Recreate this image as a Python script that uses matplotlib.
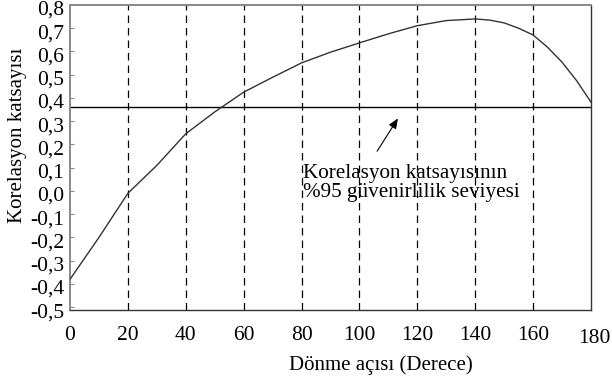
import matplotlib
matplotlib.use("Agg")
import matplotlib.pyplot as plt
import matplotlib.transforms as mtransforms

plt.rcParams['font.family'] = ['Liberation Serif', 'DejaVu Serif']

# Rotation angle (degrees) and correlation coefficient
angles = [0, 10, 20, 30, 40, 50, 60, 70, 80, 90, 100, 110, 120, 130, 140,
          145, 150, 155, 160, 165, 170, 175, 180]
corr = [-0.38, -0.20, -0.01, 0.11, 0.246, 0.34, 0.425, 0.489, 0.551, 0.597,
        0.637, 0.676, 0.711, 0.733, 0.74, 0.735, 0.723, 0.70, 0.671, 0.618,
        0.554, 0.475, 0.382]

# 95 % confidence level of the correlation coefficient
conf_level = 0.36

grid_angles = [20, 40, 60, 80, 100, 120, 140, 160]
x_ticks = [0, 20, 40, 60, 80, 100, 120, 140, 160, 180]
y_ticks = [-0.5, -0.4, -0.3, -0.2, -0.1, 0.0, 0.1, 0.2, 0.3, 0.4, 0.5, 0.6, 0.7, 0.8]

W, H = 612, 383
fig = plt.figure(figsize=(W / 100, H / 100), dpi=100)
left, right, top, bottom = 70, 591, 5, 309.5
ax = fig.add_axes([left / W, 1 - bottom / H, (right - left) / W, (bottom - top) / H])

ax.set_xlim(0, 180)
ax.set_ylim(-0.51, 0.797)

for a in grid_angles:
    ax.axvline(a, color='black', lw=0.9, linestyle=(0, (6, 4)), zorder=1)

ax.axhline(conf_level, color='black', lw=1.0, zorder=2)
ax.plot(angles, corr, color='#333333', lw=1.0, zorder=3)

# Axis frame
for side in ('left', 'top'):
    ax.spines[side].set_color('#888888')
    ax.spines[side].set_linewidth(1.4)
for side in ('right', 'bottom'):
    ax.spines[side].set_color('#333333')
    ax.spines[side].set_linewidth(1.0)

ax.set_yticks(y_ticks)
ax.set_yticklabels([f"{v:.1f}".replace('.', ',') for v in y_ticks])
ax.tick_params(axis='y', direction='in', length=3, width=0.8, color='#888888',
               pad=4, labelsize=15.5)
shift_down = mtransforms.ScaledTranslation(0, -3 / 100, fig.dpi_scale_trans)
for lbl in ax.get_yticklabels():
    lbl.set_transform(lbl.get_transform() + shift_down)

ax.set_xticks(x_ticks)
ax.set_xticklabels([str(v) for v in x_ticks])
ax.tick_params(axis='x', length=0, pad=12, labelsize=15.5)
last = ax.get_xticklabels()[-1]
last.set_transform(last.get_transform() +
                   mtransforms.ScaledTranslation(3 / 100, -3 / 100, fig.dpi_scale_trans))

fig.text(381 / W, 1 - 365 / H, "Dönme açısı (Derece)", ha='center', va='center',
         fontsize=15)
fig.text(18 / W, 1 - 135 / H, "Korelasyon katsayısı", ha='center', va='center',
         rotation=90, fontsize=15)

ax.text(80.5, 0.033, "Korelasyon katsayısının\n%95 güvenirlilik seviyesi",
        ha='left', va='center', fontsize=15.2, linespacing=0.98, zorder=4)
ax.annotate("", xy=(113.3, 0.312), xytext=(106.1, 0.171),
            arrowprops=dict(arrowstyle='-|>,head_length=0.6,head_width=0.25',
                            color='black', lw=0.8, shrinkA=0, shrinkB=0))

fig.savefig("out.png", dpi=100)
